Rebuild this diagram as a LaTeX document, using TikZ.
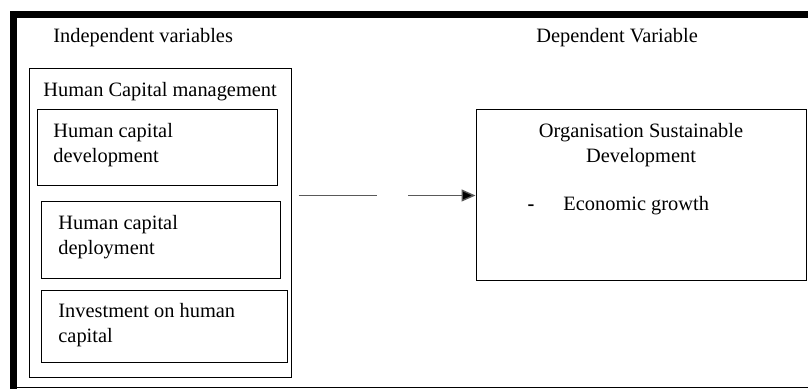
\documentclass[tikz,border=0pt]{standalone}
\usepackage{fontspec}
\setmainfont{Liberation Serif}
\usetikzlibrary{arrows.meta,positioning}

\begin{document}
\begin{tikzpicture}[x=0.5pt, y=-0.5pt, font=\fontsize{10.2}{12.5}\selectfont, box/.style={draw, line width=0.5pt, inner sep=0pt}, txt/.style={anchor=north west, align=left, inner sep=0pt}, link/.style={line width=0.7pt, draw=black!65}]
\useasboundingbox (0,0) rectangle (808,389);
% outer frame
\draw[line width=3.5pt] (13.5,389) -- (13.5,14.5) -- (808,14.5);
\draw[line width=0.5pt] (10,388) -- (808,388);
% headings
\node[txt] (indep) at (53,28) {Independent variables};
\node[txt] (depvar) at (536,28) {Dependent Variable};
% independent side
\node[box, minimum width=131pt, minimum height=154.5pt] (hcm) at (160,223.5) {};
\node[txt] (hcmtxt) at (43,82) {Human Capital management};
\node[box, minimum width=120pt, minimum height=38pt] (devbox) at (157,148) {};
\node[txt] (devtxt) at (53,123) {Human capital\\development};
\node[box, minimum width=119.5pt, minimum height=38.5pt] (depbox) at (160.5,240.5) {};
\node[txt] (deptxt) at (58,215) {Human capital\\deployment};
\node[box, minimum width=123pt, minimum height=36pt] (invbox) at (164,327) {};
\node[txt] (invtxt) at (58,303) {Investment on human\\capital};
% dependent side
\node[box, minimum width=165pt, minimum height=85.5pt] (osd) at (641,195.5) {};
\node[txt, anchor=north, align=center] (osdtxt) at (641,123) {Organisation Sustainable\\Development};
\node[inner sep=0pt, font=\fontsize{10.2}{12.5}\selectfont\bfseries] (dash) at (531,208) {-};
\node[txt] (econ) at (563,196) {Economic growth};
% arrow
\coordinate (gapL) at (377,195.5); \coordinate (gapR) at (408,195.5);
\draw[link] ([xshift=3.5pt]hcm.east |- osd.west) -- (gapL);
\draw[link, -{Triangle[length=7pt, width=6pt, fill=black]}] (gapR) -- (osd.west);
\end{tikzpicture}
\end{document}
